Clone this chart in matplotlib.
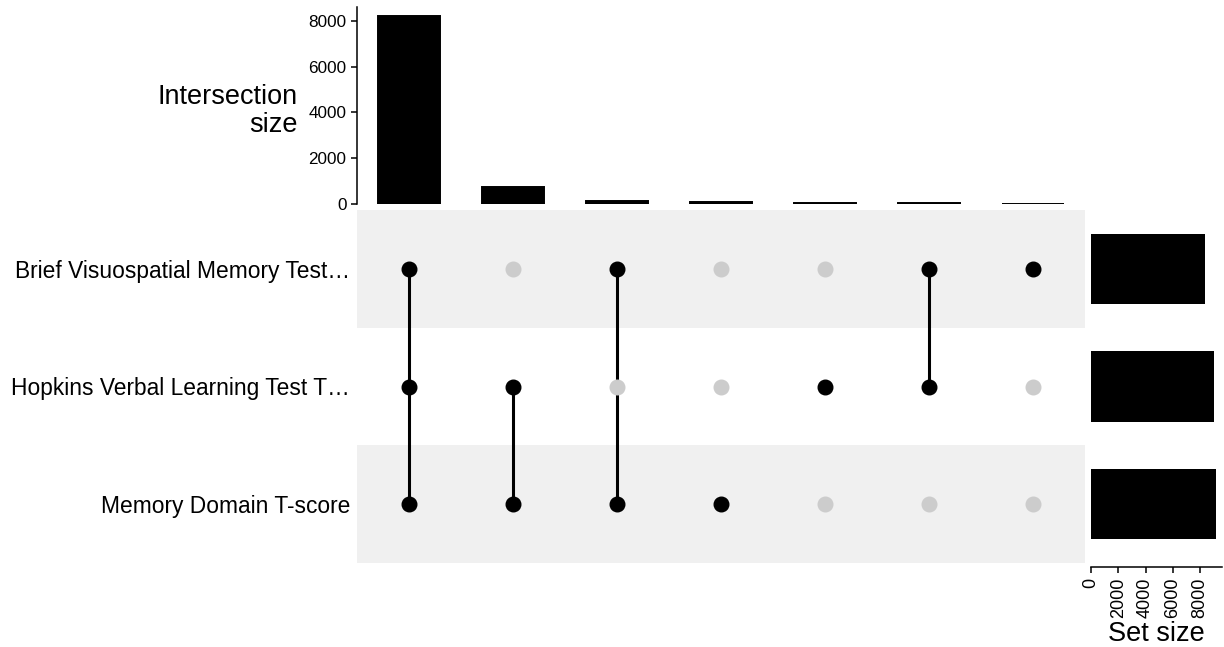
import numpy as np
import matplotlib
matplotlib.use("Agg")
from matplotlib import pyplot as plt

plt.rcParams['font.family'] = ['Liberation Sans', 'DejaVu Sans']

# set names, top to bottom
sets = ["Brief Visuospatial Memory Test…",
        "Hopkins Verbal Learning Test T…",
        "Memory Domain T-score"]
set_sizes = [8360, 9040, 9160]

# intersections, left to right
inter_sizes = [8190, 760, 120, 90, 60, 30, 20]
# membership: rows = sets (top to bottom), columns = intersections
member = [[1, 0, 1, 0, 0, 1, 1],
          [1, 1, 0, 0, 1, 1, 0],
          [1, 1, 1, 1, 0, 0, 0]]

W, H = 1224, 647
fig = plt.figure(figsize=(W / 100, H / 100), dpi=100)

def box(x0, y0, x1, y1):
    # pixel box -> figure fraction
    return [x0 / W, 1 - y1 / H, (x1 - x0) / W, (y1 - y0) / H]

n = len(inter_sizes)
m = len(sets)

# intersection size bars
ax_top = fig.add_axes(box(357, 7, 1085, 204))
ax_top.bar(np.arange(n), inter_sizes, width=0.6, color='black',
           edgecolor='black', linewidth=1.4)
ax_top.set_xlim(-0.5, n - 0.5)
ax_top.set_ylim(0, 8600)
ax_top.set_yticks([0, 2000, 4000, 6000, 8000])
ax_top.set_xticks([])
for s in ['top', 'right', 'bottom']:
    ax_top.spines[s].set_visible(False)
ax_top.spines['left'].set_linewidth(1.1)
ax_top.tick_params(axis='y', labelsize=12.3, length=4, width=1.1, colors='black')
ax_top.set_ylabel("Intersection\nsize", fontsize=19.5, rotation=0, ha='right',
                  va='center', multialignment='right', linespacing=1.1)
ax_top.yaxis.set_label_coords(-0.082, 0.47)

# matrix
ax_m = fig.add_axes(box(357, 210, 1085, 563))
ax_m.set_xlim(-0.5, n - 0.5)
ax_m.set_ylim(m - 0.5, -0.5)
for i in range(m):
    if i % 2 == 0:
        ax_m.axhspan(i - 0.5, i + 0.5, color='#f0f0f0', zorder=0, lw=0)
for j in range(n):
    rows = [i for i in range(m) if member[i][j]]
    if len(rows) > 1:
        ax_m.plot([j, j], [min(rows), max(rows)], color='black', lw=2.2, zorder=2)
    for i in range(m):
        c = 'black' if member[i][j] else '#cccccc'
        ax_m.plot(j, i, 'o', color=c, markersize=10.5, zorder=3)
ax_m.set_xticks([])
ax_m.set_yticks(range(m))
ax_m.set_yticklabels(sets, fontsize=16.4)
ax_m.tick_params(axis='y', length=0, pad=5)
for s in ax_m.spines.values():
    s.set_visible(False)

# set size bars
ax_s = fig.add_axes(box(1091, 210, 1222, 563))
ax_s.barh(np.arange(m), set_sizes, height=0.6, color='black')
ax_s.set_ylim(m - 0.5, -0.5)
ax_s.set_xlim(0, 9600)
ax_s.set_xticks([0, 2000, 4000, 6000, 8000])
ax_s.set_yticks([])
for s in ['top', 'right', 'left']:
    ax_s.spines[s].set_visible(False)
ax_s.spines['bottom'].set_linewidth(1.1)
ax_s.spines['bottom'].set_position(('outward', 3))
ax_s.tick_params(axis='x', labelsize=13, length=4, width=1.1, labelrotation=90)
ax_s.set_xlabel("Set size", fontsize=19.5, labelpad=2)

fig.savefig("out.png", dpi=100, facecolor='white')
